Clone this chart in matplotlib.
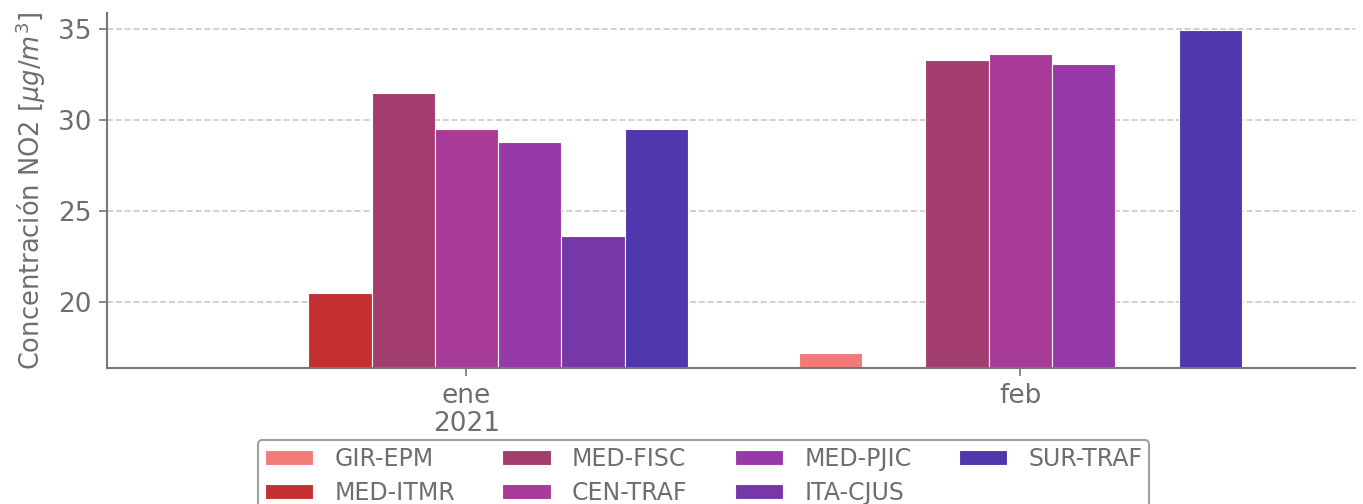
import matplotlib
matplotlib.use("Agg")
import matplotlib.pyplot as plt
import numpy as np

months = ["ene\n2021", "feb"]
stations = ["GIR-EPM", "MED-ITMR", "MED-FISC", "CEN-TRAF", "MED-PJIC", "ITA-CJUS", "SUR-TRAF"]
colors = ["#f47a7a", "#c62f2f", "#a33d6f", "#a83b98", "#9739a8", "#7638a9", "#4f37ad"]
gir_epm = [np.nan, 17.2]
med_itmr = [20.5, np.nan]
med_fisc = [31.5, 33.3]
cen_traf = [29.5, 33.6]
med_pjic = [28.8, 33.1]
ita_cjus = [23.6, np.nan]
sur_traf = [29.5, 34.95]
series = [gir_epm, med_itmr, med_fisc, cen_traf, med_pjic, ita_cjus, sur_traf]

W, H = 1363, 504
fig = plt.figure(figsize=(W / 100, H / 100), dpi=100)
ax = fig.add_axes([107 / W, 1 - 368 / H, (1355 - 107) / W, (368 - 13) / H])

gray = "#6e6e6e"
n = len(stations)
bw = 0.8 / n
x = np.arange(len(months))
ymin = 16.37
for i, (name, vals, c) in enumerate(zip(stations, series, colors)):
    v = np.array(vals, dtype=float)
    ax.bar(x + (i - (n - 1) / 2) * bw, v - ymin, bottom=ymin, width=bw, color=c,
           edgecolor="white", linewidth=0.8, label=name, zorder=2)

ax.set_xlim(-0.649, 1.604)
ax.set_ylim(ymin, 35.88)
ax.set_xticks(x)
ax.set_xticklabels(months, linespacing=1.1)
ax.set_yticks([20, 25, 30, 35])
ax.grid(axis="y", color="#c8c8c8", linestyle="--", linewidth=1.2, zorder=0)
ax.set_axisbelow(True)
for s in ["top", "right"]:
    ax.spines[s].set_visible(False)
for s in ["left", "bottom"]:
    ax.spines[s].set_color("#777777")
    ax.spines[s].set_linewidth(1.5)
ax.tick_params(axis="both", colors="#777777", labelcolor=gray, labelsize=19,
               length=6, width=1.2, pad=5)
ax.set_ylabel("Concentración NO2 [$\\mu g/m^3$]", fontsize=18.5, color=gray, labelpad=7)

leg = fig.legend(loc="upper center", bbox_to_anchor=(703.5 / W, 1 - 440 / H), ncol=4,
                 prop={"family": "DejaVu Sans", "size": 17},
                 frameon=True, edgecolor="#888888", handlelength=2.05,
                 handleheight=0.6, columnspacing=2.0, handletextpad=0.9,
                 borderpad=0.3, labelspacing=0.42, borderaxespad=0)
for t in leg.get_texts():
    t.set_color(gray)
leg.get_frame().set_linewidth(1.5)

fig.savefig("out.png", dpi=100)
